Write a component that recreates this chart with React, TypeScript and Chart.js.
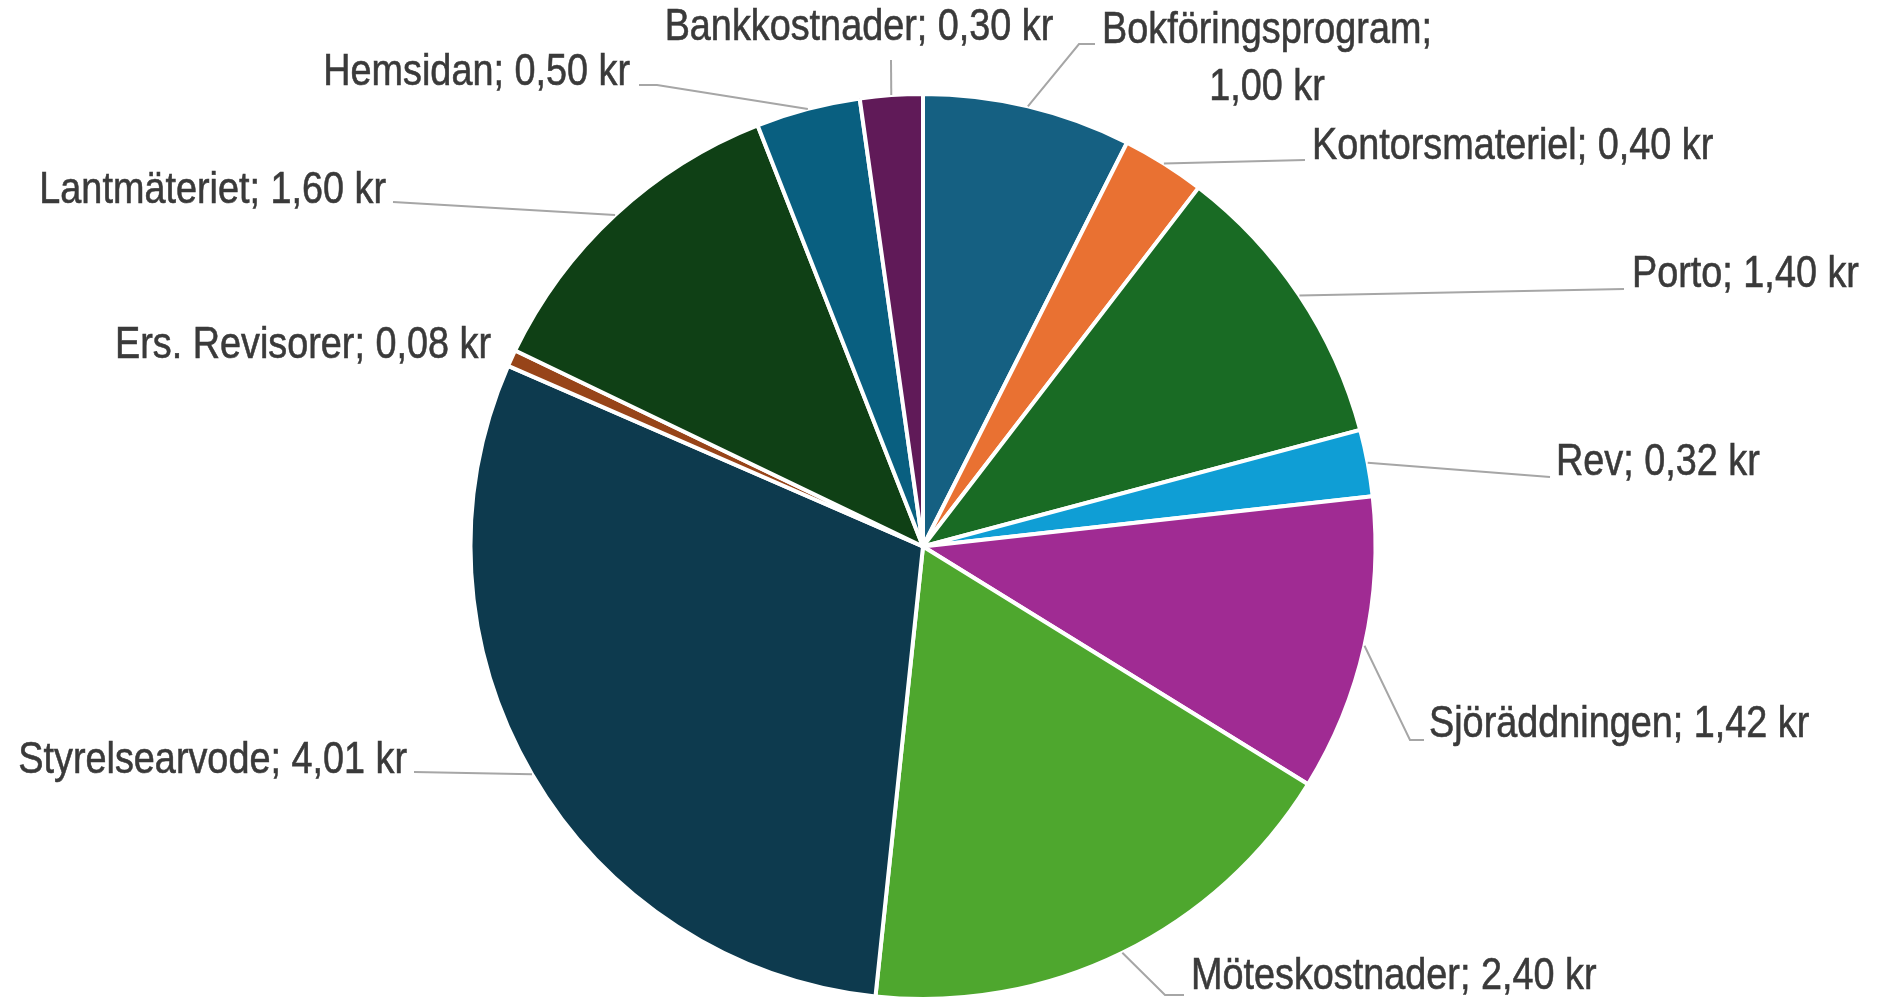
import React, { useEffect, useRef } from "react";
import { Chart, registerables } from "chart.js";

Chart.register(...registerables);

// ---- data ----
const categories = [
  "Bokföringsprogram",
  "Kontorsmateriel",
  "Porto",
  "Rev",
  "Sjöräddningen",
  "Möteskostnader",
  "Styrelsearvode",
  "Ers. Revisorer",
  "Lantmäteriet",
  "Hemsidan",
  "Bankkostnader",
];
const values = [1.0, 0.4, 1.4, 0.32, 1.42, 2.4, 4.01, 0.08, 1.6, 0.5, 0.3];
const sliceColors = [
  "#156082",
  "#E97132",
  "#196B24",
  "#0F9ED5",
  "#A02B93",
  "#4EA72E",
  "#0D3A4E",
  "#974419",
  "#0F4015",
  "#095F80",
  "#601A58",
];

// ---- label layout (positions of data labels and leader lines) ----
type LabelLayout = {
  x: number;
  y: number;
  align: CanvasTextAlign;
  wrap?: boolean;
  elbow?: [number, number];
  end?: [number, number];
};
const labelLayout: LabelLayout[] = [
  { x: 1267, y: 31, align: "center", wrap: true, elbow: [1079, 44], end: [1095, 44] },
  { x: 1312, y: 147, align: "left", end: [1305, 160] },
  { x: 1632, y: 275, align: "left", end: [1624, 289] },
  { x: 1556, y: 463, align: "left", end: [1550, 477] },
  { x: 1429, y: 725, align: "left", elbow: [1410, 740], end: [1424, 740] },
  { x: 1191, y: 977, align: "left", elbow: [1165, 995], end: [1184, 995] },
  { x: 407, y: 761, align: "right", end: [414, 772] },
  { x: 491, y: 346, align: "right" },
  { x: 386, y: 191, align: "right", end: [393, 202] },
  { x: 630, y: 73, align: "right", elbow: [657, 85], end: [639, 85] },
  { x: 859, y: 28, align: "center", end: [891, 60] },
];

const FONT = '45px "Liberation Sans", Arial, sans-serif';
const XSCALE = 0.84;
const LINE_GAP = 57;

function fmt(v: number) {
  return v.toFixed(2).replace(".", ",") + " kr";
}

const labelPlugin = {
  id: "excelLabels",
  afterDraw(chart: any) {
    const ctx: CanvasRenderingContext2D = chart.ctx;
    const meta = chart.getDatasetMeta(0);
    meta.data.forEach((arc: any, i: number) => {
      const L = labelLayout[i];
      if (!L) return;
      const p = arc.getProps(["x", "y", "startAngle", "endAngle", "outerRadius"], true);
      const mid = (p.startAngle + p.endAngle) / 2;
      const sx = p.x + Math.cos(mid) * p.outerRadius;
      const sy = p.y + Math.sin(mid) * p.outerRadius;
      if (L.end) {
        ctx.save();
        ctx.strokeStyle = "#A6A6A6";
        ctx.lineWidth = 2;
        ctx.beginPath();
        ctx.moveTo(sx, sy);
        if (L.elbow) ctx.lineTo(L.elbow[0], L.elbow[1]);
        ctx.lineTo(L.end[0], L.end[1]);
        ctx.stroke();
        ctx.restore();
      }
      const text = categories[i] + "; " + fmt(values[i]);
      const lines = L.wrap ? [categories[i] + ";", fmt(values[i])] : [text];
      ctx.save();
      ctx.font = FONT;
      ctx.fillStyle = "#3A3A3A";
      ctx.strokeStyle = "#3A3A3A";
      ctx.lineWidth = 0.6;
      ctx.textBaseline = "middle";
      ctx.textAlign = L.align;
      lines.forEach((ln, k) => {
        ctx.save();
        ctx.translate(L.x, L.y + k * LINE_GAP);
        ctx.scale(XSCALE, 1);
        ctx.fillText(ln, 0, 0);
        ctx.strokeText(ln, 0, 0);
        ctx.restore();
      });
      ctx.restore();
    });
  },
};

export default function App() {
  const ref = useRef<HTMLCanvasElement | null>(null);
  useEffect(() => {
    if (!ref.current) return;
    const chart = new Chart(ref.current, {
      type: "pie",
      data: {
        labels: categories,
        datasets: [
          {
            data: values,
            backgroundColor: sliceColors,
            borderColor: "#FFFFFF",
            borderWidth: 4,
          },
        ],
      },
      options: {
        animation: false,
        responsive: true,
        maintainAspectRatio: false,
        layout: { padding: { top: 92, bottom: -7, left: 465, right: 505 } },
        plugins: {
          legend: { display: false },
          tooltip: { enabled: false },
        },
      },
      plugins: [labelPlugin],
    });
    return () => chart.destroy();
  }, []);
  return (
    <div
      style={{
        position: "absolute",
        left: 0,
        top: 0,
        width: 1886,
        height: 1001,
        background: "#FFFFFF",
      }}
    >
      <canvas ref={ref} />
    </div>
  );
}
